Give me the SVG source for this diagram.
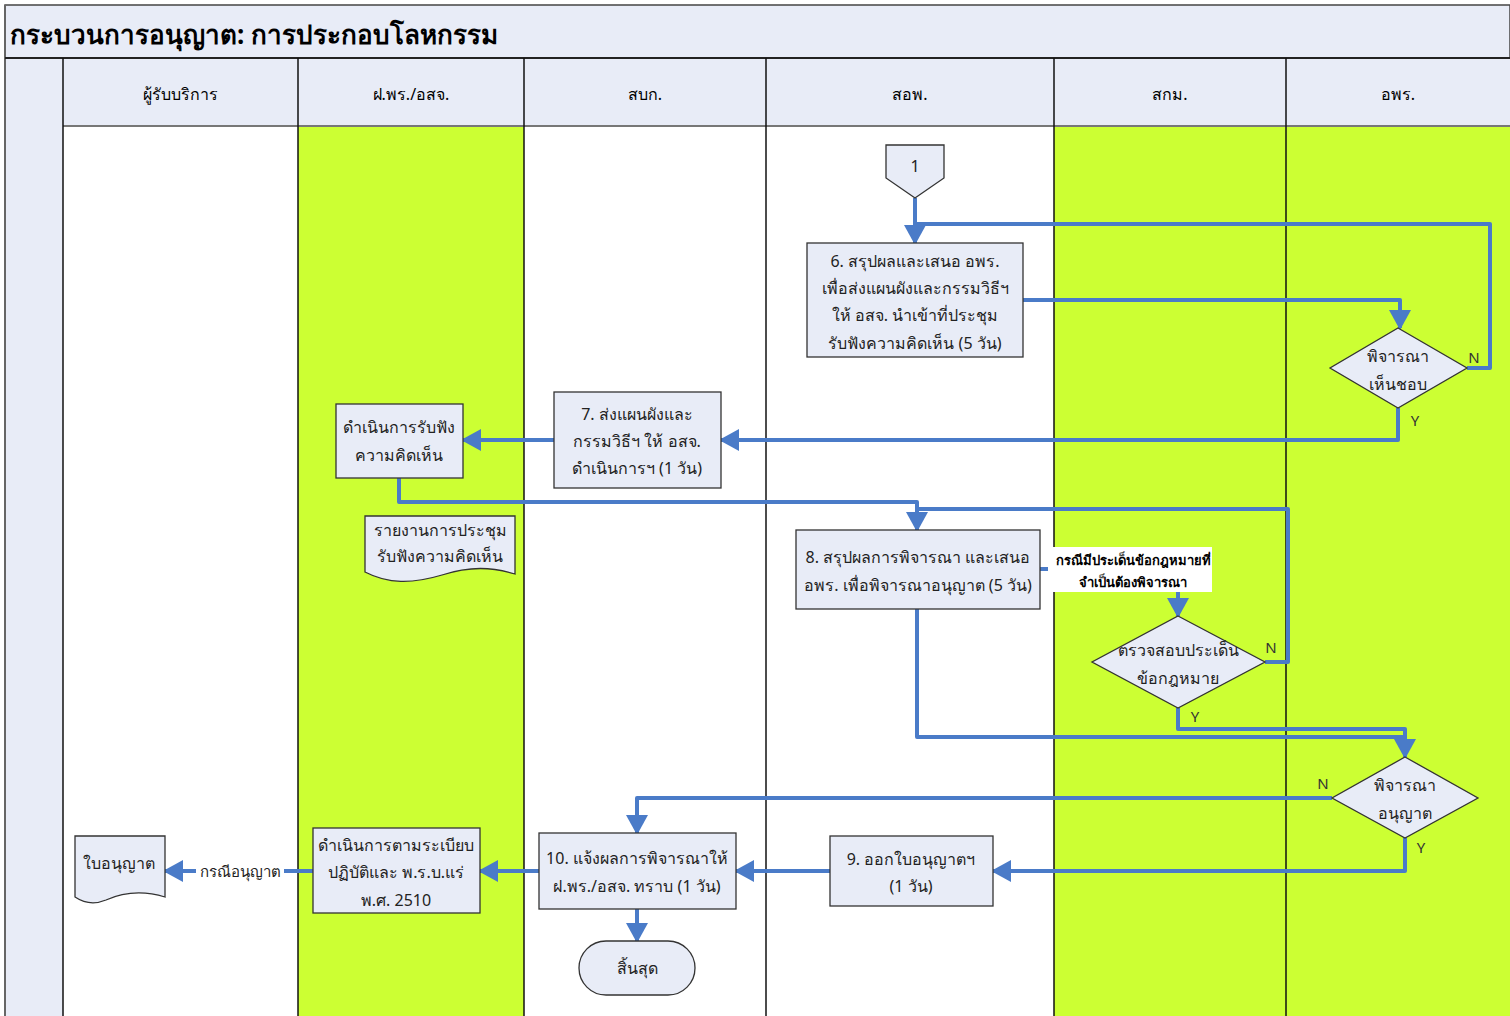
<svg xmlns="http://www.w3.org/2000/svg" width="1510" height="1016" viewBox="0 0 1510 1016">
<style>
text{font-family:"Noto Sans","Liberation Sans","Noto Sans CJK SC",sans-serif;fill:#222;}
.t{font-size:16px;text-anchor:middle;dominant-baseline:central;}
.hd{font-size:16px;text-anchor:middle;dominant-baseline:central;fill:#000;}
.yn{font-size:15px;text-anchor:middle;dominant-baseline:central;fill:#333;}
.box{fill:#E8ECF7;stroke:#333;stroke-width:1.3;}
.lane{stroke:#111;stroke-width:1.5;}
.c{fill:none;stroke:#4A7BC8;stroke-width:4;stroke-linejoin:round;}
.ca{fill:none;stroke:#4A7BC8;stroke-width:4;stroke-linejoin:round;marker-end:url(#ah);}
</style>
<defs>
<marker id="ah" markerUnits="userSpaceOnUse" markerWidth="22" markerHeight="22" refX="18" refY="11" orient="auto" viewBox="0 0 22 22">
<path d="M0,0 L20,11 L0,22 z" fill="#4A7BC8"/>
</marker>
</defs>

<g id="background">
<rect x="0" y="0" width="1510" height="1016" fill="#fff"/>
<rect x="5" y="5" width="1505" height="53" fill="#E8ECF7" stroke="#444" stroke-width="1.5"/>
<rect x="5" y="58" width="58" height="958" fill="#E8ECF7"/>
<rect x="63" y="58" width="1447" height="68" fill="#E8ECF7"/>
<rect x="298" y="126" width="226" height="890" fill="#CCFF33"/>
<rect x="1054" y="126" width="456" height="890" fill="#CCFF33"/>
<line x1="5" y1="5" x2="5" y2="1016" stroke="#666" stroke-width="2"/>
<line x1="5" y1="58" x2="1510" y2="58" stroke="#222" stroke-width="2"/>
<line x1="63" y1="126" x2="1510" y2="126" stroke="#777" stroke-width="2"/>
<line class="lane" x1="63" y1="58" x2="63" y2="1016"/>
<line class="lane" x1="298" y1="58" x2="298" y2="1016"/>
<line class="lane" x1="524" y1="58" x2="524" y2="1016"/>
<line class="lane" x1="766" y1="58" x2="766" y2="1016"/>
<line class="lane" x1="1054" y1="58" x2="1054" y2="1016"/>
<line class="lane" x1="1286" y1="58" x2="1286" y2="1016"/>
<text x="10" y="34" style="font-size:26px;font-weight:bold;dominant-baseline:central;fill:#000">กระบวนการอนุญาต: การประกอบโลหกรรม</text>
<text class="hd" x="180" y="94">ผู้รับบริการ</text>
<text class="hd" x="411" y="94">ฝ.พร./อสจ.</text>
<text class="hd" x="645" y="94">สบก.</text>
<text class="hd" x="910" y="94">สอพ.</text>
<text class="hd" x="1170" y="94">สกม.</text>
<text class="hd" x="1398" y="94">อพร.</text>
</g>

<g id="connectors">
<path class="ca" d="M915,198 V243"/>
<path class="c" d="M1467,368 H1490 V224 H915"/>
<path class="ca" d="M1023,300 H1400 V328"/>
<path class="ca" d="M1398,408 V440 H721"/>
<path class="ca" d="M554,440 H463"/>
<path class="ca" d="M399,478 V502 H917 V530"/>
<path class="c" d="M1265,662 H1288 V509 H917"/>
<path class="ca" d="M1040,569 H1178 V616"/>
<path class="c" d="M1178,708 V729 H1405 V740"/>
<path class="ca" d="M917,609 V737 H1405 V757"/>
<path class="ca" d="M1332,798 H637 V833"/>
<path class="ca" d="M1405,838 V871 H993"/>
<path class="ca" d="M830,871 H736"/>
<path class="ca" d="M637,909 V941"/>
<path class="ca" d="M539,871 H480"/>
<path class="ca" d="M313,871 H165"/>
<rect x="1048" y="547" width="164" height="45" fill="#fff"/>
<text x="1133" y="560" style="font-size:13px;font-weight:bold;text-anchor:middle;dominant-baseline:central;fill:#000">กรณีมีประเด็นข้อกฎหมายที่</text>
<text x="1133" y="582" style="font-size:13px;font-weight:bold;text-anchor:middle;dominant-baseline:central;fill:#000">จำเป็นต้องพิจารณา</text>
<rect x="196" y="861" width="88" height="20" fill="#fff"/>
<text x="240" y="871" class="t" style="font-size:15px">กรณีอนุญาต</text>
<text class="yn" x="1474" y="357">N</text>
<text class="yn" x="1415" y="420">Y</text>
<text class="yn" x="1271" y="647">N</text>
<text class="yn" x="1195" y="716">Y</text>
<text class="yn" x="1323" y="783">N</text>
<text class="yn" x="1421" y="847">Y</text>
</g>

<g id="n1">
<path class="box" d="M886,145 H944 V178 L915,198 L886,178 Z"/>
<text class="t" x="915" y="166">1</text>
</g>
<g id="n6">
<rect class="box" x="807" y="243" width="216" height="114"/>
<text class="t" x="915" y="261">6. สรุปผลและเสนอ อพร.</text>
<text class="t" x="915" y="288">เพื่อส่งแผนผังและกรรมวิธีฯ</text>
<text class="t" x="915" y="315">ให้ อสจ. นำเข้าที่ประชุม</text>
<text class="t" x="915" y="343">รับฟังความคิดเห็น (5 วัน)</text>
</g>
<g id="d1">
<path class="box" d="M1398,328 L1467,368 L1398,408 L1330,368 Z"/>
<text class="t" x="1398" y="356">พิจารณา</text>
<text class="t" x="1398" y="384">เห็นชอบ</text>
</g>
<g id="n7">
<rect class="box" x="554" y="392" width="167" height="96"/>
<text class="t" x="637" y="414">7. ส่งแผนผังและ</text>
<text class="t" x="637" y="441">กรรมวิธีฯ ให้ อสจ.</text>
<text class="t" x="637" y="468">ดำเนินการฯ (1 วัน)</text>
</g>
<g id="nHear">
<rect class="box" x="336" y="404" width="127" height="74"/>
<text class="t" x="399" y="427">ดำเนินการรับฟัง</text>
<text class="t" x="399" y="455">ความคิดเห็น</text>
</g>
<g id="docReport">
<path class="box" d="M365,516 H515 V574 C492,567 470,566 442,575 C412,584 388,584 365,572 Z"/>
<text class="t" x="440" y="530">รายงานการประชุม</text>
<text class="t" x="440" y="556">รับฟังความคิดเห็น</text>
</g>
<g id="n8">
<rect class="box" x="796" y="530" width="244" height="79"/>
<text class="t" x="918" y="557">8. สรุปผลการพิจารณา และเสนอ</text>
<text class="t" x="918" y="585">อพร. เพื่อพิจารณาอนุญาต (5 วัน)</text>
</g>
<g id="d2">
<path class="box" d="M1178,616 L1265,662 L1178,708 L1092,662 Z"/>
<text class="t" x="1178" y="650">ตรวจสอบประเด็น</text>
<text class="t" x="1178" y="678">ข้อกฎหมาย</text>
</g>
<g id="d3">
<path class="box" d="M1405,757 L1478,798 L1405,838 L1332,798 Z"/>
<text class="t" x="1405" y="785">พิจารณา</text>
<text class="t" x="1405" y="813">อนุญาต</text>
</g>
<g id="n9">
<rect class="box" x="830" y="836" width="163" height="70"/>
<text class="t" x="911" y="859">9. ออกใบอนุญาตฯ</text>
<text class="t" x="911" y="886">(1 วัน)</text>
</g>
<g id="n10">
<rect class="box" x="539" y="833" width="197" height="76"/>
<text class="t" x="637" y="858">10. แจ้งผลการพิจารณาให้</text>
<text class="t" x="637" y="886">ฝ.พร./อสจ. ทราบ (1 วัน)</text>
</g>
<g id="nEnd">
<rect class="box" x="579" y="941" width="116" height="54" rx="27" ry="27"/>
<text class="t" x="637" y="968">สิ้นสุด</text>
</g>
<g id="nProc">
<rect class="box" x="313" y="828" width="167" height="85"/>
<text class="t" x="396" y="845">ดำเนินการตามระเบียบ</text>
<text class="t" x="396" y="872">ปฏิบัติและ พ.ร.บ.แร่</text>
<text class="t" x="396" y="900">พ.ศ. 2510</text>
</g>
<g id="docLicense">
<path class="box" d="M75,836 H165 V897 C142,890 124,892 106,900 C94,905 84,903 75,897 Z"/>
<text class="t" x="119" y="863">ใบอนุญาต</text>
</g>
</svg>
